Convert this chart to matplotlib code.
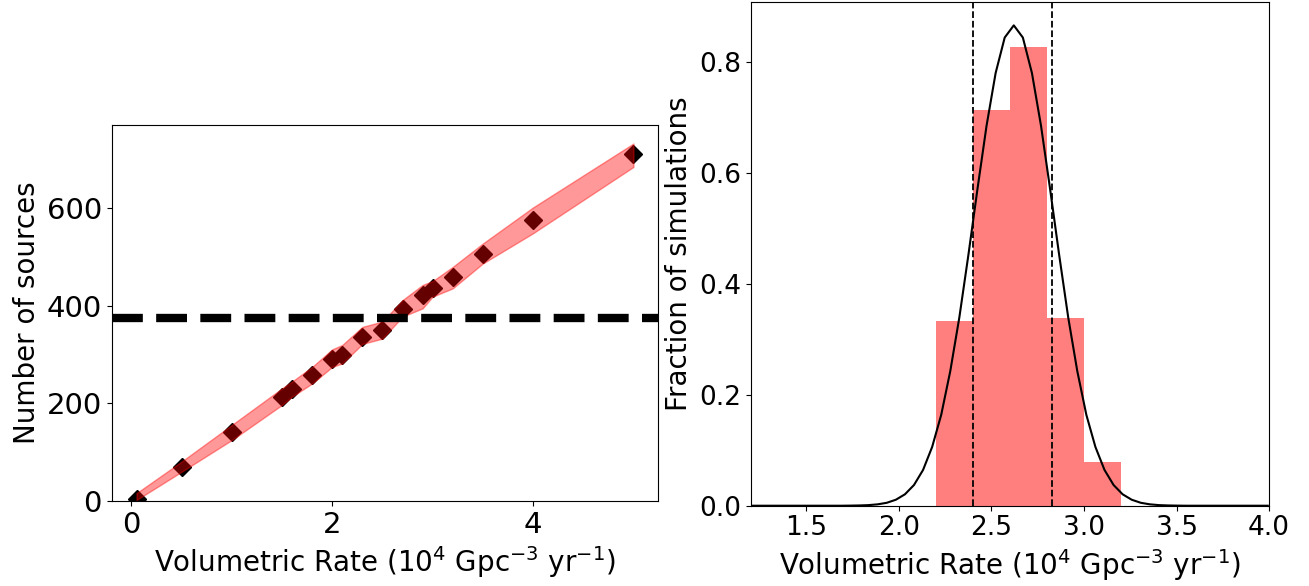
import matplotlib
matplotlib.use("Agg")
import matplotlib.pyplot as plt

# ---- Left panel data ----
rate = [0.05, 0.5, 1.0, 1.5, 1.6, 1.8, 2.0, 2.1, 2.3, 2.5, 2.7, 2.9, 3.0, 3.2, 3.5, 4.0, 5.0]
n_sources = [5, 70, 141, 214, 229, 258, 292, 300, 337, 351, 393, 422, 436, 460, 506, 576, 711]
n_lower = [2, 60, 125, 197, 214, 241, 275, 282, 322, 333, 378, 395, 419, 436, 487, 549, 685]
n_upper = [16, 81, 156, 231, 245, 275, 311, 320, 357, 368, 412, 443, 451, 480, 528, 602, 733]
observed = 376

# ---- Right panel data ----
bin_edges = [2.2, 2.4, 2.6, 2.8, 3.0, 3.2]
bin_frac = [0.333, 0.7145, 0.828, 0.3386, 0.0788]
interval = [2.40, 2.83]
curve_x = [1.200, 1.249, 1.298, 1.347, 1.396, 1.445, 1.494, 1.543, 1.592, 1.641,
           1.690, 1.739, 1.788, 1.837, 1.886, 1.935, 1.984, 2.033, 2.082, 2.131,
           2.180, 2.229, 2.278, 2.327, 2.376, 2.425, 2.474, 2.523, 2.572, 2.621,
           2.670, 2.719, 2.768, 2.817, 2.866, 2.915, 2.964, 3.013, 3.062, 3.111,
           3.160, 3.209, 3.258, 3.307, 3.356, 3.405, 3.454, 3.503, 3.552, 3.601,
           3.650, 3.699, 3.748, 3.797, 3.846, 3.895, 3.944, 3.993]
curve_y = [0.0, 0.0, 0.0, 0.0, 0.0, 0.0, 0.0, 0.0, 0.0, 0.0,
           0.0, 0.0002, 0.0005, 0.0011, 0.0025, 0.0053, 0.0108, 0.0206, 0.0374, 0.0646,
           0.106, 0.164, 0.243, 0.340, 0.453, 0.572, 0.686, 0.781, 0.845, 0.867,
           0.845, 0.781, 0.686, 0.572, 0.453, 0.340, 0.243, 0.164, 0.106, 0.0646,
           0.0374, 0.0206, 0.0108, 0.0053, 0.0025, 0.0011, 0.0005, 0.0002, 0.0, 0.0,
           0.0, 0.0, 0.0, 0.0, 0.0, 0.0, 0.0, 0.0]

xlabel = r"Volumetric Rate (10$^4$ Gpc$^{-3}$ yr$^{-1}$)"

fig = plt.figure(figsize=(13.09, 5.86), dpi=100)

ax1 = fig.add_axes([0.0853, 0.1451, 0.4176, 0.6416])
ax1.plot(rate, n_sources, "D", color="black", ms=9, zorder=2)
ax1.fill_between(rate, n_lower, n_upper, color="red", alpha=0.4, lw=1, zorder=3)
ax1.axhline(observed, color="black", ls="--", lw=6, zorder=4)
ax1.set_ylim(0, 771)
ax1.set_xticks([0, 2, 4])
ax1.set_yticks([0, 200, 400, 600])
ax1.tick_params(labelsize=21)
ax1.set_xlabel(xlabel, fontsize=20)
ax1.set_ylabel("Number of sources", fontsize=20)

ax2 = fig.add_axes([0.5735, 0.1370, 0.3960, 0.8604])
widths = [bin_edges[i + 1] - bin_edges[i] for i in range(len(bin_frac))]
ax2.bar(bin_edges[:-1], bin_frac, width=widths, align="edge", color="red", alpha=0.5, lw=0)
ax2.plot(curve_x, curve_y, color="black", lw=1.5)
for v in interval:
    ax2.axvline(v, color="black", ls="--", lw=1.3)
ax2.set_xlim(1.2, 4.0)
ax2.set_ylim(0, 0.91)
ax2.set_xticks([1.5, 2.0, 2.5, 3.0, 3.5, 4.0])
ax2.set_yticks([0.0, 0.2, 0.4, 0.6, 0.8])
ax2.tick_params(labelsize=19)
ax2.set_xlabel(xlabel, fontsize=20)
ax2.set_ylabel("Fraction of simulations", fontsize=20)

fig.savefig("out.png", dpi=100)
